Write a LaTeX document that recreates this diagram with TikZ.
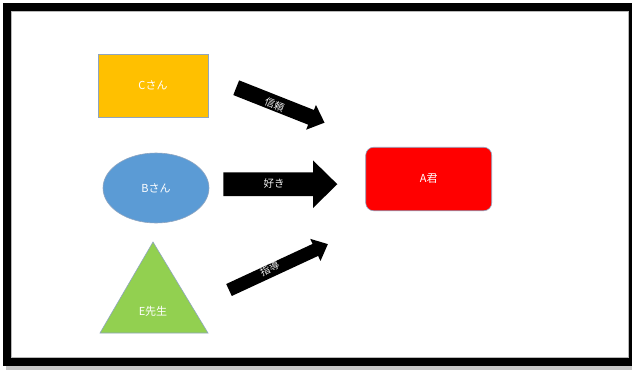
\documentclass[tikz,border=0pt]{standalone}
\usepackage{fontspec}
\setmainfont{Noto Sans CJK JP}
\usetikzlibrary{shapes.geometric}

\definecolor{cyellow}{HTML}{FFC000}
\definecolor{bblue}{HTML}{5B9BD5}
\definecolor{egreen}{HTML}{92D050}
\definecolor{ared}{HTML}{FF0000}
\definecolor{outline}{HTML}{8FA5C0}

% block arrow: name, tail x, tail y, angle, length, shaft half width, head half width, head length
\newcommand\blockarrow[8]{%
  \fill[black, shift={(#2,#3)}, rotate=#4]
    (0,-#6) -- ({#5-#8},-#6) -- ({#5-#8},-#7) -- (#5,0)
    -- ({#5-#8},#7) -- ({#5-#8},#6) -- (0,#6) -- cycle;
  \coordinate[shift={(#2,#3)}, rotate=#4] (#1) at (#5,0);%
}

\tikzset{
  shapebox/.style={draw=outline, line width=0.6pt, inner sep=0pt,
    text=white, font=\fontsize{11pt}{13pt}\selectfont},
  arrowlabel/.style={inner sep=0pt, text=white!88!gray,
    font=\fontsize{10pt}{12pt}\selectfont},
}

\begin{document}
\begin{tikzpicture}[x=1pt, y=-1pt]
  \useasboundingbox (0,0) rectangle (632,370);

  % framed slide with a soft shadow below
  \fill[gray!45] (6,365) rectangle (632,370);
  \fill[black] (3,3) rectangle (632,366);
  \fill[white] (11.5,11.5) rectangle (628,357);
  \draw[gray!55, line width=0.4pt] (11.5,11.5) rectangle (628,357);

  % people
  \node[shapebox, rectangle, fill=cyellow, minimum width=110pt, minimum height=63pt]
    (C) at (153,85.5) {Cさん};
  \node[shapebox, ellipse, fill=bblue, minimum width=106pt, minimum height=70pt]
    (B) at (156,188) {Bさん};
  \draw[outline, line width=0.6pt, fill=egreen]
    (153,242) -- (208,333) -- (100,333) -- cycle;
  \node[shapebox, draw=none] (E) at (153,311) {E先生};
  \node[shapebox, rectangle, rounded corners=8pt, fill=ared, minimum width=126pt, minimum height=63.5pt]
    (A) at (428.7,179) {A君};

  % relations
  \blockarrow{trust}{236.2}{87.7}{-21.6}{95}{7.9}{13.3}{14.5}
  \node[arrowlabel, rotate=-21.6] (trustlabel) at (274.5,105) {信頼};

  \blockarrow{like}{223.3}{184.2}{0}{114}{11.9}{23.8}{24.3}
  \node[arrowlabel, font=\fontsize{10.5pt}{12pt}\selectfont] (likelabel) at (274,183.5) {好き};

  \blockarrow{guide}{229}{290}{24.9}{109}{6.6}{12.2}{13.8}
  \node[arrowlabel, rotate=24.9] (guidelabel) at (269.5,268.5) {指導};
\end{tikzpicture}
\end{document}
